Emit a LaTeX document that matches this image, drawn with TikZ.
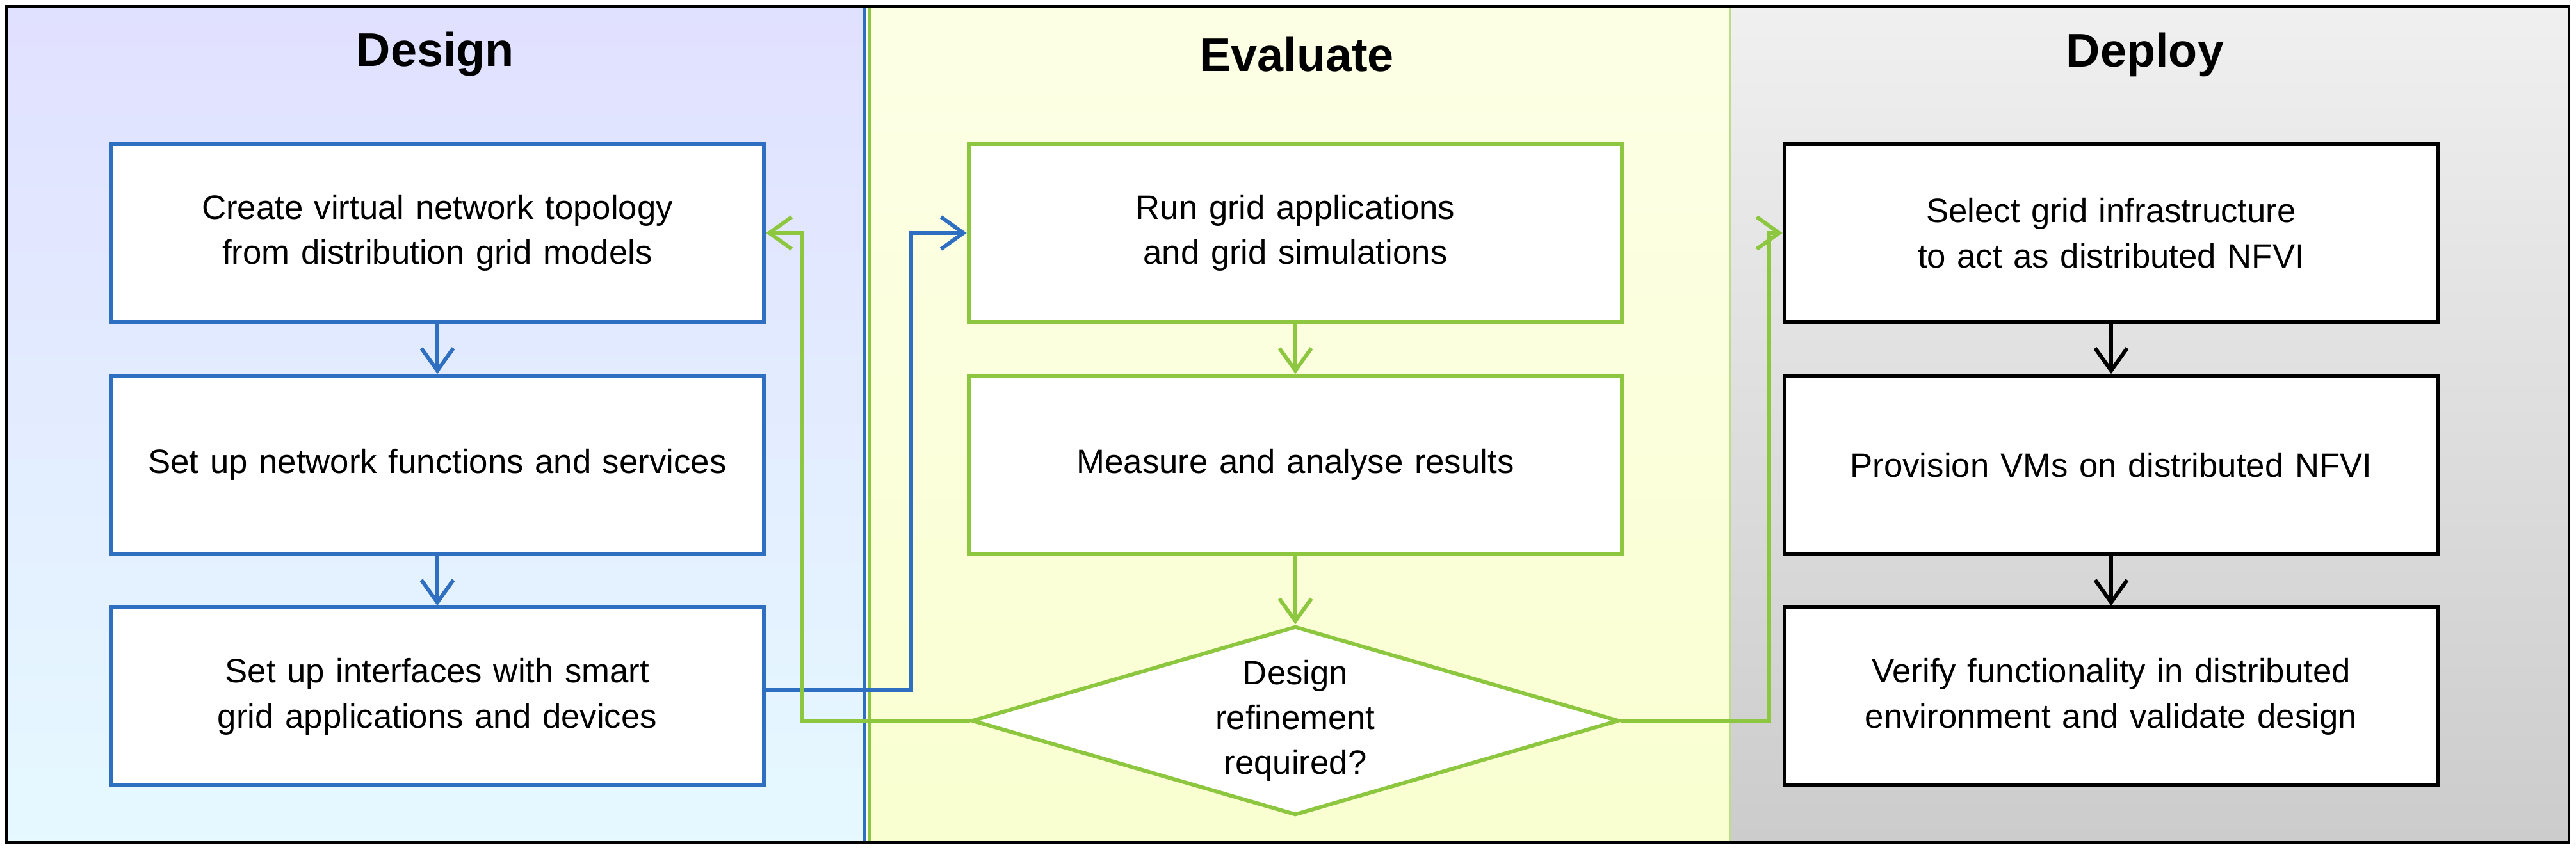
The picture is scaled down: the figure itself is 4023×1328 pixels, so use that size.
\documentclass[tikz,border=0pt]{standalone}
\usepackage{fontspec}
\setmainfont{Liberation Sans}
\usepackage{tikz}
\usetikzlibrary{positioning, shapes.geometric, arrows.meta}

\definecolor{dblue}{HTML}{2E6FC2}
\definecolor{egreen}{HTML}{8DC63F}

\tikzset{
  stage/.style={draw, rectangle, fill=white, line width=1.7pt, minimum width=10.2cm, minimum height=2.78cm, text width=9.4cm, align=center, font=\fontsize{15}{20}\selectfont},
  flow/.style={line width=1.7pt, -{Straight Barb[length=3.5mm, width=5mm]}},
  title/.style={font=\bfseries\fontsize{21}{25}\selectfont}
}

\begin{document}
\begin{tikzpicture}[x=0.01cm, y=-0.01cm, node distance=0.78cm]
    % Panels
    \useasboundingbox (0,0) rectangle (4023,1328);
    \shade[top color=blue!12, bottom color=blue!25!cyan!10!white] (12,12) rectangle (1352,1314);
    \shade[top color=green!8!yellow!10, bottom color=green!12!yellow!18] (1356,12) rectangle (2702,1314);
    \shade[top color=black!6, bottom color=black!20] (2702,12) rectangle (4010,1314);
    \draw[dblue, line width=1.4pt] (1350,12) -- (1350,1314);
    \draw[egreen, line width=1.4pt] (1358,12) -- (1358,1314);
    \draw[egreen!60, line width=1.2pt] (2702,12) -- (2702,1314);
    \draw[black, line width=1.2pt] (10,10) rectangle (4012,1316);

    % Titles
    \node[title] (tdesign) at (680,85) {Design};
    \node[title] (teval) at (2025,85) {Evaluate};
    \node[title] (tdeploy) at (3350,85) {Deploy};

    % Design
    \node[stage, draw=dblue] (d1) at (683,364) {Create virtual network topology from distribution grid models};
    \node[stage, draw=dblue, below=of d1] (d2) {Set up network functions and services};
    \node[stage, draw=dblue, below=of d2] (d3) {Set up interfaces with smart grid applications and devices};

    % Evaluate
    \node[stage, draw=egreen] (e1) at (2023,364) {Run grid applications and grid simulations};
    \node[stage, draw=egreen, below=of e1] (e2) {Measure and analyse results};
    \node[draw=egreen, fill=white, line width=1.7pt, diamond, aspect=3.4, minimum width=10.1cm, minimum height=2.95cm, inner sep=0pt, align=center, font=\fontsize{15}{20}\selectfont] (e3) at (2023,1126) {Design\\refinement\\required?};

    % Deploy
    \node[stage, draw=black] (p1) at (3297,364) {Select grid infrastructure to act as distributed NFVI};
    \node[stage, draw=black, below=of p1] (p2) {Provision VMs on distributed NFVI};
    \node[stage, draw=black, below=of p2] (p3) {Verify functionality in distributed environment and validate design};

    % Connections
    \draw[flow, dblue] (d1) -- (d2);
    \draw[flow, dblue] (d2) -- (d3);
    \draw[flow, egreen] (e1) -- (e2);
    \draw[flow, egreen] (e2) -- (e3);
    \draw[flow, black] (p1) -- (p2);
    \draw[flow, black] (p2) -- (p3);
    \coordinate (bx) at (1423,0);
    \coordinate (gx) at (1252,0);
    \coordinate (rx) at (2763,0);
    \draw[flow, dblue] (d3.east |- 0,1078) -| (bx |- e1.west) -- (e1.west);
    \draw[flow, egreen] (e3.west) -| (gx |- d1.east) -- (d1.east);
    \draw[flow, egreen] (e3.east) -| (rx |- p1.west) -- (p1.west);
\end{tikzpicture}
\end{document}
